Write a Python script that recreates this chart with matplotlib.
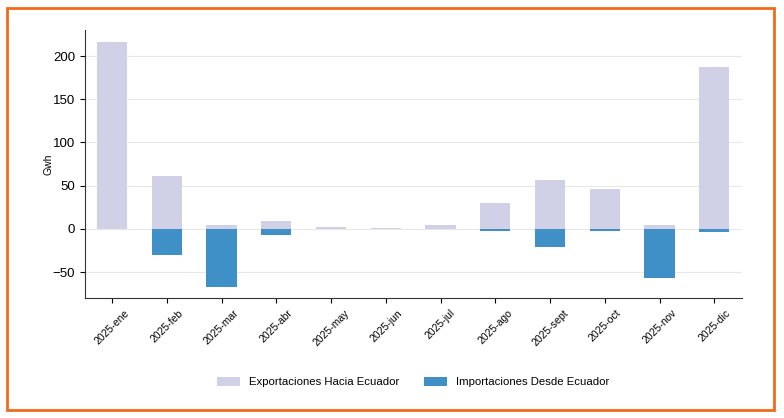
import numpy as np
import matplotlib.pyplot as plt
from matplotlib.patches import Rectangle

plt.rcParams["font.family"] = ["Liberation Sans", "DejaVu Sans"]

months = ["2025-ene", "2025-feb", "2025-mar", "2025-abr", "2025-may", "2025-jun",
          "2025-jul", "2025-ago", "2025-sept", "2025-oct", "2025-nov", "2025-dic"]
exportaciones = [216, 61, 4, 9, 2.5, 1.5, 4.5, 30, 57, 46, 5, 187]
importaciones = [0, -30, -67, -7, 0, 0, 0, -2, -21, -2, -57, -4]

c_exp = "#d0d1e6"
c_imp = "#3f90c6"

fig = plt.figure(figsize=(7.84, 4.18), dpi=100)
ax = fig.add_axes([0.108, 0.287, 0.838, 0.641])

x = np.arange(len(months))
ax.bar(x, exportaciones, width=0.55, color=c_exp, label="Exportaciones Hacia Ecuador", zorder=2)
ax.bar(x, importaciones, width=0.55, color=c_imp, label="Importaciones Desde Ecuador", zorder=2)

ax.set_xlim(-0.5, 11.5)
ax.set_ylim(-80, 230)
ax.set_yticks([-50, 0, 50, 100, 150, 200])
ax.set_xticks(x)
ax.set_xticklabels(months, rotation=45, ha="center", fontsize=7.5)
ax.tick_params(axis="y", labelsize=9.5)
ax.set_ylabel("Gwh", fontsize=7.5)
ax.yaxis.set_label_coords(-0.048, 0.5)
ax.yaxis.grid(True, color="#e8e8e8", linewidth=0.8, zorder=0)
ax.set_axisbelow(True)
for s in ["top", "right"]:
    ax.spines[s].set_visible(False)
for s in ["left", "bottom"]:
    ax.spines[s].set_color("#333333")

fig.legend(loc="center", bbox_to_anchor=(0.527, 0.086), ncol=2, frameon=False,
           fontsize=8.2, handlelength=2.0, handleheight=0.9, columnspacing=2.2)

fig.patches.append(Rectangle((7 / 784, 8 / 418), 767 / 784, 402 / 418,
                             transform=fig.transFigure, fill=False,
                             edgecolor="#f26a1b", linewidth=2))

fig.savefig("out.png", dpi=100)
